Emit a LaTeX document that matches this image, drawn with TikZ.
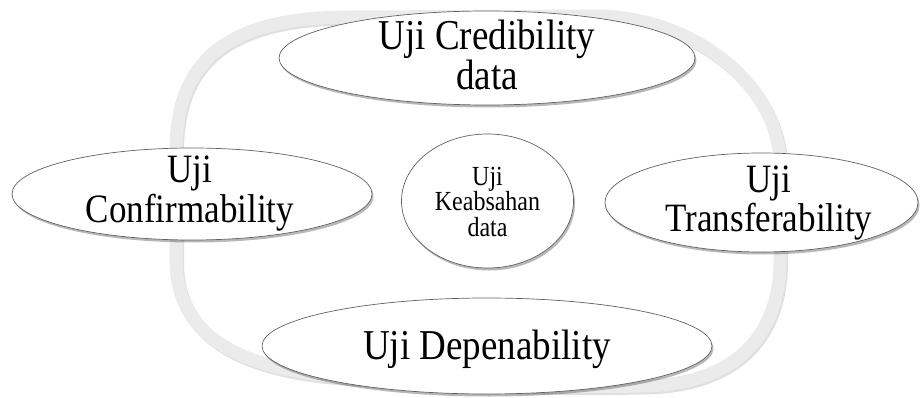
\documentclass[tikz,border=0pt]{standalone}
\usepackage{fontspec}
\setmainfont{Liberation Serif}
\usepackage{graphicx}
\usetikzlibrary{shapes.geometric,shadows}
\newcommand\stk[3]{\scalebox{1}[1.15]{\fontsize{#1}{#2}\selectfont\begin{tabular}{@{}c@{}}#3\end{tabular}}}
\newcommand\ringpath{(350,17) -- (600,16) .. controls (690,18) and (775,80) .. (780,160) -- (780,260) .. controls (780,340) and (730,386) .. (640,386) .. controls (560,388) and (420,385) .. (330,376) .. controls (230,366) and (176,330) .. (176,260) -- (176,150) .. controls (176,55) and (235,17) .. (350,17) -- cycle}
\tikzset{
  bub/.style={ellipse, draw=black!62, line width=0.7pt, fill=white, inner sep=0pt,
    drop shadow={shadow xshift=1.5pt, shadow yshift=-2.5pt, opacity=0.28, fill=black}},
  txt/.style={inner sep=0pt, text=black},
  ringline/.style={line width=13pt, draw=black!8},
  ringshadow/.style={line width=13pt, draw=black, opacity=0.12}
}
\begin{document}
\begin{tikzpicture}[x=1pt,y=-1pt]
\useasboundingbox (0,0) rectangle (920,398);
% background cycle ring
\begin{scope}[shift={(1.5,2)}]
  \draw[ringshadow] \ringpath;
\end{scope}
\draw[ringline] \ringpath;
% shapes
\node[bub, minimum width=416pt, minimum height=94pt] (cred) at (487,58) {};
\node[bub, minimum width=360pt, minimum height=92pt] (conf) at (192,194) {};
\node[bub, minimum width=313pt, minimum height=99pt] (trans) at (761.5,202.5) {};
\node[bub, minimum width=450pt, minimum height=96pt] (dep) at (487,346) {};
\node[bub, minimum width=172pt, minimum height=134pt] (keab) at (487.5,201) {};
% texts
\node[txt] (credt) at (487,60) {\stk{37}{30}{Uji Credibility\\data}};
\node[txt] (conft) at (190,195) {\stk{35}{33}{Uji\\Confirmability}};
\node[txt] (transt) at (769,204) {\stk{35}{29.5}{Uji\\Transferability}};
\node[txt] (dept) at (487,351) {\stk{37}{37}{Uji Depenability}};
\node[txt] (keabt) at (487.5,205) {\stk{24}{18.7}{Uji\\Keabsahan\\data}};
\end{tikzpicture}
\end{document}
